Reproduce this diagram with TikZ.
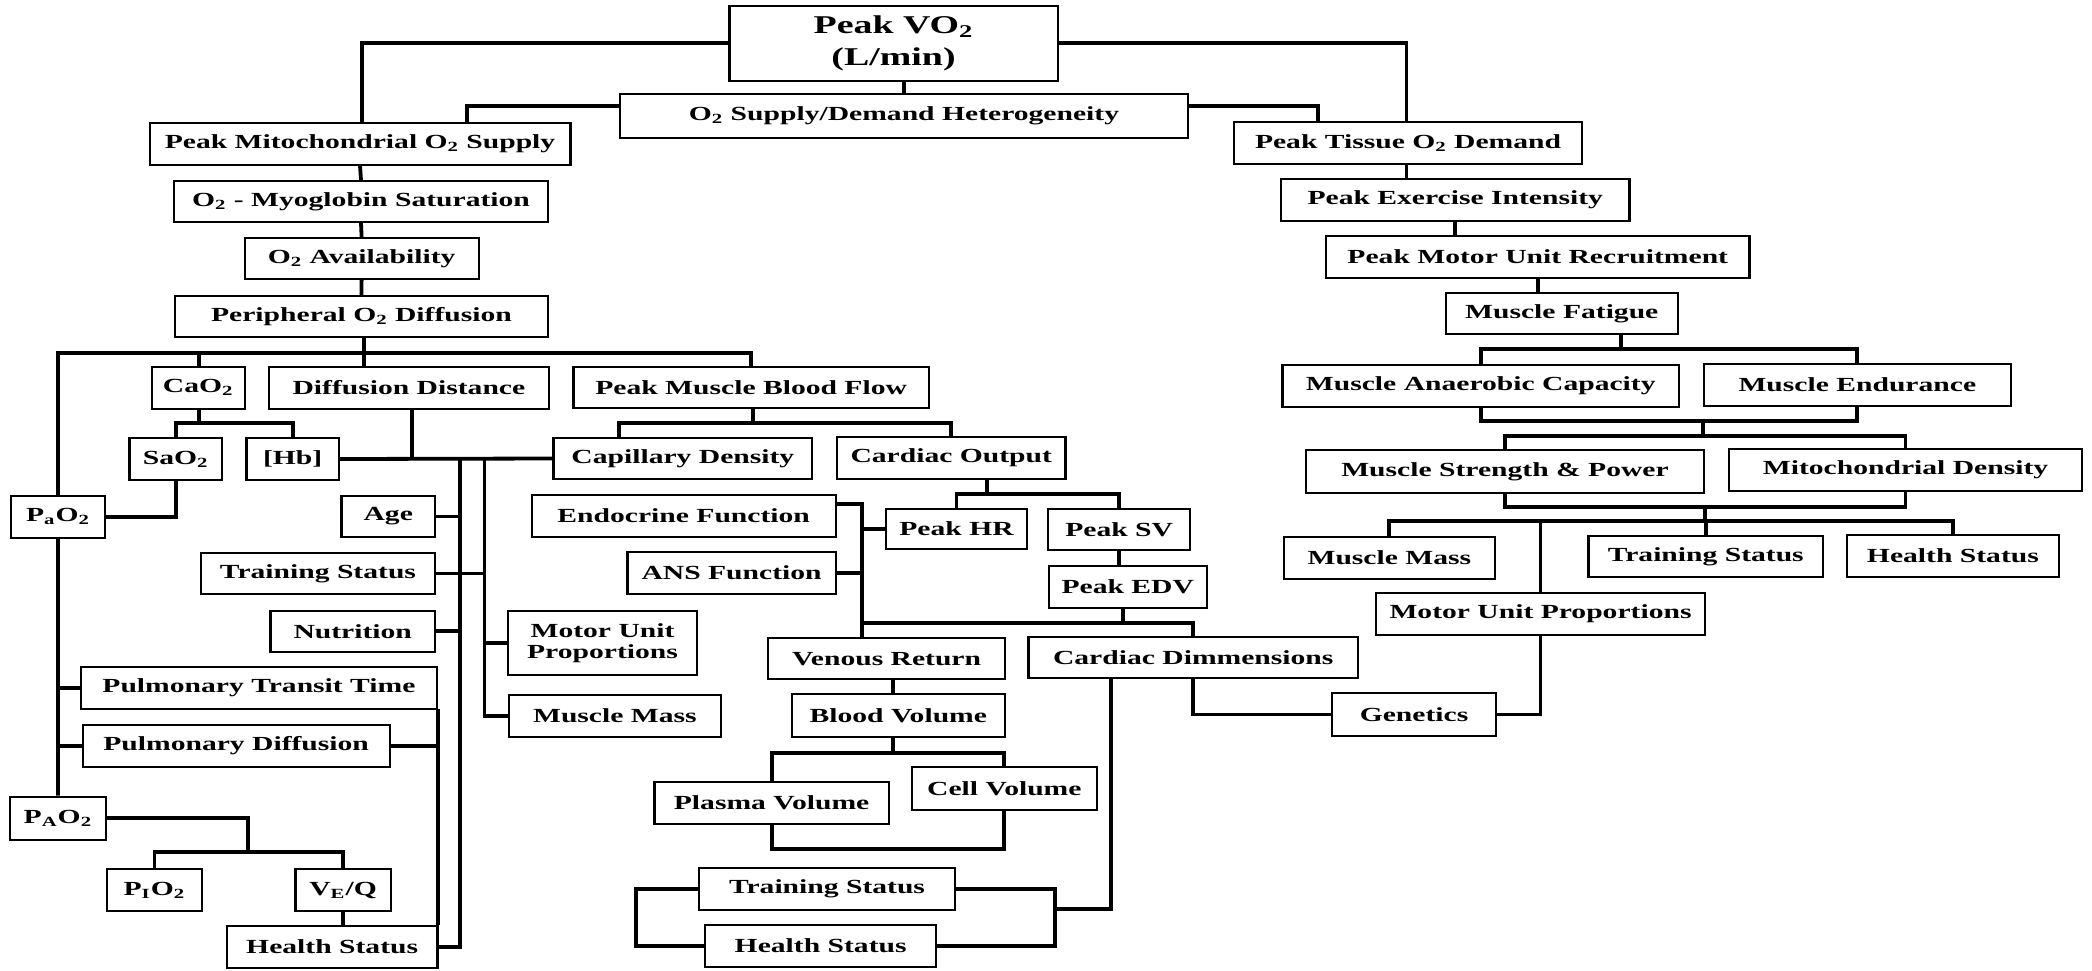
\documentclass[tikz,border=0pt]{standalone}
\usepackage{fontspec}
\setmainfont{Liberation Serif}[FakeStretch=1.48]
\newcommand{\mybox}[7][]{%
  \pgfmathsetmacro\bcx{(#3+#5)/2}%
  \pgfmathsetmacro\bcy{(#4+#6)/2}%
  \pgfmathsetmacro\bw{(#5-#3)*0.5}%
  \pgfmathsetmacro\bh{(#6-#4)*0.5}%
  \node[box, minimum width=\bw pt, minimum height=\bh pt, #1] (#2) at (\bcx,\bcy) {#7};}
\newcommand{\tss}{\textsubscript{2}}
\begin{document}
\begin{tikzpicture}[x=0.5pt,y=-0.5pt,
  box/.style={draw, line width=1.1pt, inner sep=0pt, align=center,
              font=\bfseries\fontsize{10}{10.5}\selectfont},
  bigbox/.style={font=\bfseries\fontsize{12.8}{16}\selectfont},
  conn/.style={line width=1.9pt}]
\fill[white] (0,0) rectangle (2092,970);
\useasboundingbox (0,0) rectangle (2092,970);

% ---------- top ----------
\mybox[bigbox]{vo2}{729.5}{6}{1057.6}{81}{Peak VO\tss\\(L/min)}
\mybox{o2s}{620}{94}{1188}{138}{O\tss{} Supply/Demand Heterogeneity}
\mybox{pmo}{149.6}{123}{570.5}{165}{Peak Mitochondrial O\tss{} Supply}
\mybox{myo}{174}{181}{548}{222}{O\tss{} - Myoglobin Saturation}
\mybox{avl}{244.6}{238}{478.6}{279}{O\tss{} Availability}
\mybox{pdf}{175}{296}{548}{337}{Peripheral O\tss{} Diffusion}

% ---------- right column ----------
\mybox{ptd}{1234}{122}{1582}{164}{Peak Tissue O\tss{} Demand}
\mybox{pei}{1281}{179}{1629.5}{221}{Peak Exercise Intensity}
\mybox{pmur}{1326}{236}{1749.5}{278}{Peak Motor Unit Recruitment}
\mybox{mf}{1445.7}{293}{1677.8}{334}{Muscle Fatigue}
\mybox{mac}{1282.5}{365}{1679}{407}{Muscle Anaerobic Capacity}
\mybox{me}{1704}{364}{2010.6}{406}{Muscle Endurance}
\mybox{msp}{1306}{450}{1704}{493}{Muscle Strength \& Power}
\mybox{mid}{1729}{449}{2082}{491}{Mitochondrial Density}
\mybox{mmr}{1284}{537}{1494.7}{579}{Muscle Mass}
\mybox{tsr}{1588.5}{536}{1823}{577}{Training Status}
\mybox{hsr}{1846.8}{535}{2059}{577}{Health Status}
\mybox{mupr}{1376}{593}{1705}{635}{Motor Unit Proportions}
\mybox{gen}{1332}{693}{1496}{736}{Genetics}

% ---------- left / middle ----------
\mybox{cao2}{151.8}{367}{244.6}{408.7}{CaO\tss}
\mybox{dd}{268.8}{367}{549}{408.7}{Diffusion Distance}
\mybox{pmbf}{573.5}{366.7}{928.8}{408}{Peak Muscle Blood Flow}
\mybox{sao2}{129.5}{438}{222}{480}{SaO\tss}
\mybox{hb}{246.4}{438}{339}{480}{[Hb]}
\mybox{pao2}{11}{495.7}{105}{537.7}{P\textsubscript{a}O\tss}
\mybox{age}{341.5}{495.7}{435}{537.3}{Age}
\mybox{tsl}{201}{552.7}{435}{594.3}{Training Status}
\mybox{nut}{270.5}{610.7}{435}{651.7}{Nutrition}
\mybox{mupl}{508}{610.7}{697}{675}{Motor Unit\\Proportions}
\mybox{mml}{509}{695.3}{720.7}{736.7}{Muscle Mass}
\mybox{cap}{553.4}{437.7}{812.3}{479.3}{Capillary Density}
\mybox{co}{837}{437.3}{1065.5}{479}{Cardiac Output}
\mybox{endo}{531.6}{495}{835.8}{536.7}{Endocrine Function}
\mybox{ans}{627.4}{552.3}{835.8}{594}{ANS Function}
\mybox{phr}{886}{509}{1027}{549}{Peak HR}
\mybox{psv}{1048.3}{509.3}{1190}{550}{Peak SV}
\mybox{pedv}{1048.7}{566}{1206.7}{607.7}{Peak EDV}
\mybox{vr}{768.3}{638.3}{1005}{679}{Venous Return}
\mybox{cdim}{1028.5}{637.3}{1358}{678}{Cardiac Dimmensions}
\mybox{bv}{792}{694.3}{1004.6}{736.7}{Blood Volume}
\mybox{plv}{654.5}{781.7}{888.7}{824.3}{Plasma Volume}
\mybox{cev}{911.7}{766.7}{1097}{810}{Cell Volume}
\mybox{tsm}{699.3}{868.3}{954.7}{910}{Training Status}
\mybox{hsm}{705}{925}{936.3}{966.7}{Health Status}
\mybox{ptt}{81.3}{666.7}{436.6}{709.3}{Pulmonary Transit Time}
\mybox{pd}{82.6}{725}{389.7}{766.7}{Pulmonary Diffusion}
\mybox{pAo2}{9.8}{796.7}{106}{840}{P\textsubscript{A}O\tss}
\mybox{pio2}{107}{869.3}{201.8}{911}{P\textsubscript{I}O\tss}
\mybox{veq}{295.5}{869.3}{390.6}{911}{V\textsubscript{E}/Q}
\mybox{hsl}{226.8}{926}{437.5}{968.3}{Health Status}

% ---------- junction coordinates ----------
\coordinate (jL) at (361.6,43);
\coordinate (j2) at (467,106);
\coordinate (j3) at (1318,106);
\coordinate (bus1) at (364,352.7);
\coordinate (bus2) at (198.7,422.7);
\coordinate (ddj) at (412,459.3);
\coordinate (v1) at (460,459.3);
\coordinate (v2) at (484.4,459.3);
\coordinate (bus3) at (752.6,423.3);
\coordinate (capd) at (618.8,423.3);
\coordinate (bus4) at (986.8,494);
\coordinate (vtop) at (861.7,504.3);
\coordinate (bus5) at (861.7,623.3);
\coordinate (edvx) at (1122.7,600);
\coordinate (vbx) at (892.7,700);
\coordinate (bus6) at (892.7,752.7);
\coordinate (bus7) at (900,849.3);
\coordinate (cdl) at (1110.8,909.3);
\coordinate (br) at (1055,909.3);
\coordinate (bl) at (636,917);
\coordinate (b8) at (1621,349.3);
\coordinate (b9) at (1703,420.7);
\coordinate (b10) at (1703,436);
\coordinate (b11) at (1705,507);
\coordinate (b12) at (1705,521);
\coordinate (ptdx) at (1406.5,170);
\coordinate (v3) at (438,709.3);
\coordinate (b13) at (247.8,852);

% ---------- connectors ----------
\begin{scope}[conn]
% top
\draw (pmo.north -| jL) |- (vo2.west |- jL);
\draw (ptd.north -| ptdx) |- (vo2.east |- jL);
\draw (pmo.north -| j2) |- (o2s.west |- j2);
\draw (ptd.north -| j3) |- (o2s.east |- j3);
\draw (o2s.north) -- (o2s.north |- vo2.south);
% left chain
\draw (pmo.south) -- (myo.north);
\draw (myo.south) -- (avl.north);
\draw (avl.south) -- (pdf.north);
\draw (pdf.south -| bus1) -- (bus1);
\draw (pao2.north) |- (bus1) -| (pmbf.north);
\draw (cao2.north -| bus2) -- (bus1 -| bus2);
\draw (dd.north -| bus1) -- (bus1);
\draw (cao2.south -| bus2) -- (bus2);
\draw (sao2.north) |- (bus2) -| (hb.north);
\draw (sao2.south) |- (pao2.east);
% diffusion distance group
\draw (dd.south -| ddj) -- (ddj);
\draw (hb.east) -- (cap.west);
\draw (v1) |- (hsl.east);
\draw (age.east) -- (age.east -| v1);
\draw (nut.east) -- (nut.east -| v1);
\draw (tsl.east) -- (tsl.east -| v2);
\draw (v2) |- (mml.west);
\draw (mupl.west) -- (mupl.west -| v2);
% blood flow
\draw (pmbf.south -| bus3) -- (bus3);
\draw (cap.north -| capd) -- (capd) -| (co.north);
\draw (co.south -| bus4) -- (bus4);
\draw (phr.north) |- (bus4) -| (psv.north);
\draw (psv.south) -- (psv.south |- pedv.north);
\draw (pedv.south -| edvx) -- (bus5 -| edvx);
\draw (bus5) -| (cdim.north);
\draw (endo.east |- vtop) -- (vtop) -- (vr.north -| vtop);
\draw (ans.east) -- (ans.east -| vtop);
\draw (phr.west) -- (phr.west -| vtop);
\draw (vr.south -| vbx) -- (bv.north -| vbx);
\draw (bv.south -| bus6) -- (bus6);
\draw (plv.north) |- (bus6) -| (cev.north);
\draw (plv.south) |- (bus7) -| (cev.south);
\draw (cdim.south -| cdl) -- (cdl) -- (br);
\draw (tsm.east) -| (br) |- (hsm.east);
\draw (tsm.west) -| (bl) |- (hsm.west);
\draw (cdim.south) |- (gen.west);
\draw (gen.east) -| (mupr.south);
% right column
\draw (ptd.south -| ptdx) -- (pei.north -| ptdx);
\draw (pei.south) -- (pei.south |- pmur.north);
\draw (pmur.south) -- (pmur.south |- mf.north);
\draw (mf.south -| b8) -- (b8);
\draw (mac.north) |- (b8) -| (me.north);
\draw (mac.south) |- (b9) -| (me.south);
\draw (b9) -- (b10);
\draw (msp.north) |- (b10) -| (mid.north);
\draw (msp.south) |- (b11) -| (mid.south);
\draw (b11) -- (b12);
\draw (mmr.north) |- (b12) -| (hsr.north);
\draw (tsr.north) -- (tsr.north |- b12);
\draw (mupr.north) -- (mupr.north |- b12);
% lower left
\draw (pao2.south) -- (pAo2.north);
\draw (ptt.west) -- (ptt.west -| pao2.south);
\draw (pd.west) -- (pd.west -| pao2.south);
\draw (v3) -- (hsl.north -| v3);
\draw (pd.east) -- (pd.east -| v3);
\draw (pAo2.east) -| (b13);
\draw (pio2.north) |- (b13) -| (veq.north);
\draw (veq.south) -- (veq.south |- hsl.north);
\end{scope}
\end{tikzpicture}
\end{document}
